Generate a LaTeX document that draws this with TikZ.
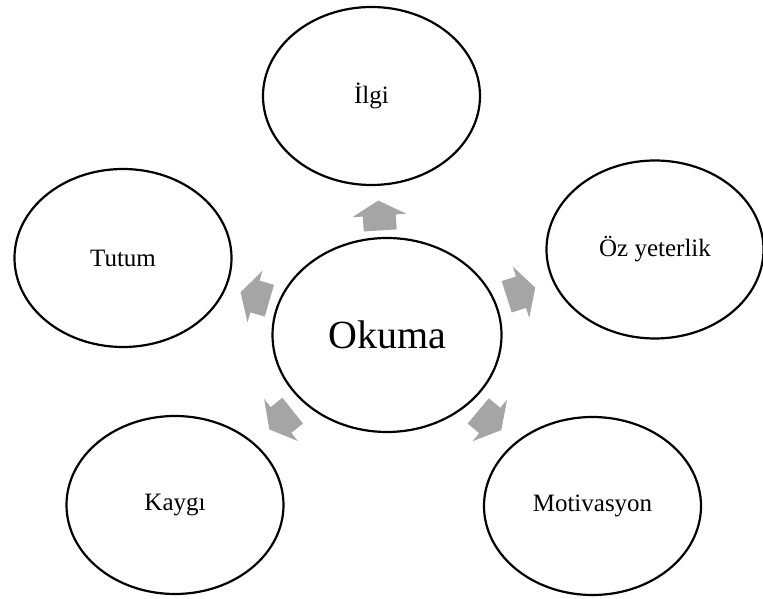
\documentclass[tikz,border=0pt]{standalone}
\usepackage{fontspec}
\setmainfont{Liberation Serif}
\usetikzlibrary{shapes.geometric,calc}

\definecolor{blockgrey}{HTML}{A5A5A5}

\tikzset{
  bubble/.style={ellipse, draw=black, line width=2.2pt, fill=white,
    minimum width=217pt, minimum height=178pt, inner sep=0pt,
    font=\fontsize{25}{30}\selectfont},
  hub/.style={bubble, minimum width=229pt, minimum height=194pt,
    font=\fontsize{40}{46}\selectfont},
  blockarrow/.pic={
    \fill[blockgrey] (-15,-16.5) -- (0,-16.5) -- (0,-27) -- (15,0)
      -- (0,27) -- (0,16.5) -- (-15,16.5) -- cycle;
  }
}

\begin{document}
\begin{tikzpicture}[x=1pt,y=1pt]
  \useasboundingbox (0,0) rectangle (763,599);

  % central concept and the five factors around it
  \node[hub]    (okuma) at (387,264)   {Okuma};
  \node[bubble] (ilgi)  at (371.5,503) {İlgi};
  \node[bubble] (tutum) at (123,341)   {Tutum};
  \node[bubble] (oz)    at (655,349.5) {Öz yeterlik};
  \node[bubble] (kaygi) at (175,94)    {Kaygı};
  \node[bubble] (motiv) at (592.5,93)  {Motivasyon};

  % block arrows halfway out, each turned towards its factor
  \foreach \target in {ilgi,tutum,oz,kaygi,motiv}{
    \path let \p1 = ($(\target.center)-(okuma.center)$),
              \n1 = {atan2(\y1,\x1)} in
      pic[rotate=\n1] at ($(okuma.center)!0.5!(\target.center)$) {blockarrow};
  }
\end{tikzpicture}
\end{document}
